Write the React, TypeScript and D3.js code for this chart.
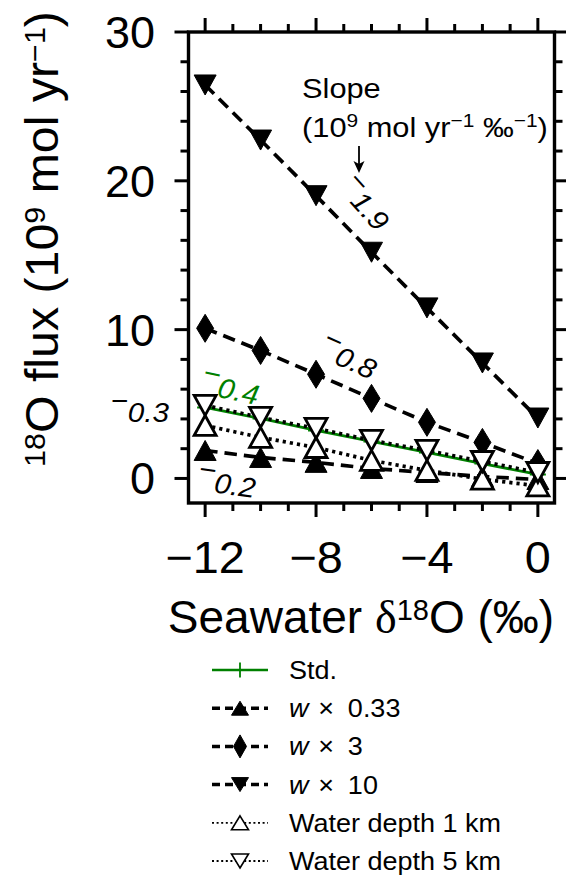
import React from "react";
import * as d3 from "d3";

// ---------- data ----------
const delta = [-12, -10, -8, -6, -4, -2, 0];
const stdFlux = [4.77, 4.03, 3.23, 2.49, 1.75, 1.0, 0.27];
const w033Flux = [1.88, 1.41, 1.08, 0.67, 0.4, 0.13, -0.07];
const w3Flux = [10.09, 8.6, 7.0, 5.38, 3.77, 2.42, 1.0];
const w10Flux = [26.44, 22.74, 19.0, 15.2, 11.46, 7.76, 4.06];
const depth1Flux = [3.56, 2.76, 2.08, 1.21, 0.54, -0.05, -0.5];
const depth5Flux = [4.91, 4.1, 3.36, 2.56, 1.88, 1.14, 0.4];

const xMajorTicks = [-12, -8, -4, 0];
const xMinorTicks = [-11, -10, -9, -7, -6, -5, -3, -2, -1];
const yMajorTicks = [0, 10, 20, 30];
const yMinorTicks = [2, 4, 6, 8, 12, 14, 16, 18, 22, 24, 26, 28];

const seriesNames = ["Std.", "w × 0.33", "w × 3", "w × 10", "Water depth 1 km", "Water depth 5 km"];
const slopeLabels = ["−0.4", "−0.2", "−0.8", "−1.9", "−0.3"];

const FONT = "'Liberation Sans', Arial, Helvetica, sans-serif";
const W = 566;
const H = 876;

type MarkerKind = "plus" | "triUp" | "triDown" | "thinDiamond";

function markerPath(kind: MarkerKind, cx: number, cy: number, hw: number, hh: number): string {
  switch (kind) {
    case "triUp":
      return `M${cx},${cy - hh}L${cx + hw},${cy + hh}L${cx - hw},${cy + hh}Z`;
    case "triDown":
      return `M${cx},${cy + hh}L${cx + hw},${cy - hh}L${cx - hw},${cy - hh}Z`;
    case "thinDiamond":
      return `M${cx},${cy - hh}L${cx + hw},${cy}L${cx},${cy + hh}L${cx - hw},${cy}Z`;
    case "plus":
    default:
      return `M${cx - hw},${cy}L${cx + hw},${cy}M${cx},${cy - hh}L${cx},${cy + hh}`;
  }
}

interface Series {
  name: string;
  values: number[];
  color: string;
  lineWidth: number;
  dash: string | null;
  marker: MarkerKind;
  fill: string;
  mStroke: number;
  hw: number;
  hh: number;
  legDash: string | null;
  legWidth: number;
  legHw: number;
  legHh: number;
  legMStroke: number;
  italicW: boolean;
}

const series: Series[] = [
  { name: seriesNames[0], values: stdFlux, color: "#008000", lineWidth: 2.8, dash: null, marker: "plus", fill: "none", mStroke: 2, hw: 8, hh: 8, legDash: null, legWidth: 2.4, legHw: 7, legHh: 7.5, legMStroke: 1.8, italicW: false },
  { name: seriesNames[1], values: w033Flux, color: "#000", lineWidth: 3.7, dash: "12.5,7", marker: "triUp", fill: "#000", mStroke: 1, hw: 11, hh: 10, legDash: "8,5", legWidth: 3.5, legHw: 8.5, legHh: 7, legMStroke: 1, italicW: true },
  { name: seriesNames[2], values: w3Flux, color: "#000", lineWidth: 3.7, dash: "12.5,7", marker: "thinDiamond", fill: "#000", mStroke: 1, hw: 8.5, hh: 14, legDash: "8,5", legWidth: 3.5, legHw: 6.5, legHh: 11.5, legMStroke: 1, italicW: true },
  { name: seriesNames[3], values: w10Flux, color: "#000", lineWidth: 3.7, dash: "12.5,7", marker: "triDown", fill: "#000", mStroke: 1, hw: 11, hh: 10, legDash: "8,5", legWidth: 3.5, legHw: 8.5, legHh: 7, legMStroke: 1, italicW: true },
  { name: seriesNames[4], values: depth1Flux, color: "#000", lineWidth: 3.7, dash: "3.2,4", marker: "triUp", fill: "#fff", mStroke: 2.8, hw: 11, hh: 10, legDash: "2,2.6", legWidth: 1.8, legHw: 8.5, legHh: 7, legMStroke: 1.6, italicW: false },
  { name: seriesNames[5], values: depth5Flux, color: "#000", lineWidth: 3.7, dash: "3.2,4", marker: "triDown", fill: "#fff", mStroke: 2.8, hw: 11, hh: 10, legDash: "2,2.6", legWidth: 1.8, legHw: 8.5, legHh: 7, legMStroke: 1.6, italicW: false },
];

// text helper; glyphs in the reference are slightly wider than Arial
function T(props: {
  x: number; y: number; size: number; anchor?: "start" | "middle" | "end"; sx?: number;
  rotate?: number; italic?: boolean; fill?: string; children: React.ReactNode;
}) {
  const { x, y, size, anchor = "start", sx = 1, rotate = 0, italic = false, fill = "#000", children } = props;
  return (
    <g transform={`translate(${x},${y}) rotate(${rotate}) scale(${sx},1)`}>
      <text x={0} y={0} fontFamily={FONT} fontSize={size} textAnchor={anchor}
        fontStyle={italic ? "italic" : "normal"} fill={fill} style={{ whiteSpace: "pre" }}>
        {children}
      </text>
    </g>
  );
}

function SlopeLabel(props: { label: string; x: number; y: number; rotate: number; fill?: string; anchor?: "start" | "middle" | "end"; size?: number }) {
  const { label, x, y, rotate, fill = "#000", anchor = "middle", size = 28 } = props;
  const minus = label.slice(0, 1);
  const rest = label.slice(1);
  return (
    <T x={x} y={y} size={size} anchor={anchor} rotate={rotate} italic fill={fill} sx={1.06}>
      <tspan dy={-12}>{minus}</tspan>
      <tspan dy={12}>{rest}</tspan>
    </T>
  );
}

export default function App() {
  const x = d3.scaleLinear().domain([-12.6, 0.6]).range([188.5, 554.5]);
  const y = d3.scaleLinear().domain([-1.65, 30]).range([503, 32]);
  const line = d3
    .line<[number, number]>()
    .x((d) => x(d[0]))
    .y((d) => y(d[1]));

  const [x0, x1] = x.range();
  const [yb, yt] = y.range();

  const legendRowY = d3.range(series.length).map((i) => 670 + i * 38.2);
  const legX0 = 212;
  const legX1 = 268;
  const legTextX = 289;

  return (
    <svg width={W} height={H} viewBox={`0 0 ${W} ${H}`}
      style={{ position: "absolute", left: 0, top: 0, background: "#fff" }}>
      <rect x={0} y={0} width={W} height={H} fill="#fff" />

      {/* series lines and markers */}
      <g>
        {series.map((s, si) => {
          const pts: [number, number][] = delta.map((d, i) => [d, s.values[i]]);
          return (
            <g key={si}>
              <path d={line(pts) || ""} fill="none" stroke={s.color} strokeWidth={s.lineWidth}
                strokeDasharray={s.dash || undefined} strokeLinecap="butt" />
              {pts.map((p, i) => (
                <path key={i} d={markerPath(s.marker, x(p[0]), y(p[1]), s.hw, s.hh)}
                  fill={s.fill} stroke={s.color} strokeWidth={s.mStroke} strokeLinejoin="miter" />
              ))}
            </g>
          );
        })}
      </g>

      {/* frame */}
      <rect x={x0} y={yt} width={x1 - x0} height={yb - yt} fill="none" stroke="#000" strokeWidth={3.4} />

      {/* x ticks top and bottom */}
      {xMajorTicks.map((t) => (
        <g key={"xm" + t}>
          <line x1={x(t)} x2={x(t)} y1={yb} y2={yb + 14} stroke="#000" strokeWidth={3} />
          <line x1={x(t)} x2={x(t)} y1={yt} y2={yt - 14} stroke="#000" strokeWidth={3} />
          <T x={x(t)} y={573} size={45} anchor="middle" sx={1.04}>{t < 0 ? `−${Math.abs(t)}` : `${t}`}</T>
        </g>
      ))}
      {xMinorTicks.map((t) => (
        <g key={"xn" + t}>
          <line x1={x(t)} x2={x(t)} y1={yb} y2={yb + 8} stroke="#000" strokeWidth={3} />
          <line x1={x(t)} x2={x(t)} y1={yt} y2={yt - 8} stroke="#000" strokeWidth={3} />
        </g>
      ))}

      {/* y ticks left and right */}
      {yMajorTicks.map((t) => (
        <g key={"ym" + t}>
          <line x1={x0} x2={x0 - 14} y1={y(t)} y2={y(t)} stroke="#000" strokeWidth={3} />
          <line x1={x1} x2={x1 + 14} y1={y(t)} y2={y(t)} stroke="#000" strokeWidth={3} />
          <T x={155} y={y(t) + 16} size={45} anchor="end">{`${t}`}</T>
        </g>
      ))}
      {yMinorTicks.map((t) => (
        <g key={"yn" + t}>
          <line x1={x0} x2={x0 - 8} y1={y(t)} y2={y(t)} stroke="#000" strokeWidth={3} />
          <line x1={x1} x2={x1 + 8} y1={y(t)} y2={y(t)} stroke="#000" strokeWidth={3} />
        </g>
      ))}

      {/* axis labels */}
      <T x={361} y={633} size={46} anchor="middle">
        <tspan>Seawater </tspan>
        <tspan fontFamily="'Liberation Serif', 'Times New Roman', serif">δ</tspan>
        <tspan fontSize={29} dy={-13}>18</tspan>
        <tspan dy={13}>O (‰)</tspan>
      </T>
      <T x={58} y={239} size={46} anchor="middle" rotate={-90} sx={1.05}>
        <tspan fontSize={29} dy={-13}>18</tspan>
        <tspan dy={13}>O flux (10</tspan>
        <tspan fontSize={29} dy={-13}>9</tspan>
        <tspan dy={13}> mol yr</tspan>
        <tspan fontSize={29} dy={-13}>−1</tspan>
        <tspan dy={13}>)</tspan>
      </T>

      {/* slope annotation */}
      <T x={302} y={98} size={28} sx={1.1}>Slope</T>
      <T x={302} y={137} size={28} sx={1.1}>
        <tspan>(10</tspan>
        <tspan fontSize={19} dy={-10}>9</tspan>
        <tspan dy={10}> mol yr</tspan>
        <tspan fontSize={19} dy={-10}>−1</tspan>
        <tspan dy={10}> ‰</tspan>
        <tspan fontSize={19} dy={-10}>−1</tspan>
        <tspan dy={10}>)</tspan>
      </T>
      <line x1={359} x2={359} y1={146} y2={170} stroke="#000" strokeWidth={1.8} />
      <path d="M353.5,161L359,173L364.5,161L359,164Z" fill="#000" />

      <SlopeLabel label={slopeLabels[3]} x={357} y={211} rotate={48} />
      <SlopeLabel label={slopeLabels[2]} x={344} y={368} rotate={24} />
      <SlopeLabel label={slopeLabels[0]} x={228} y={399} rotate={12} fill="#008000" />
      <SlopeLabel label={slopeLabels[4]} x={169} y={422} rotate={0} anchor="end" />
      <SlopeLabel label={slopeLabels[1]} x={225} y={494} rotate={8} />

      {/* legend */}
      {series.map((s, i) => {
        const cy = legendRowY[i];
        const cx = (legX0 + legX1) / 2;
        return (
          <g key={"leg" + i}>
            <line x1={legX0} x2={legX1} y1={cy} y2={cy} stroke={s.color} strokeWidth={s.legWidth}
              strokeDasharray={s.legDash || undefined} />
            <path d={markerPath(s.marker, cx, cy, s.legHw, s.legHh)} fill={s.fill} stroke={s.color}
              strokeWidth={s.legMStroke} />
            <T x={legTextX} y={cy + 9} size={25} sx={1.08}>
              {s.italicW ? (
                <>
                  <tspan fontStyle="italic">{s.name.slice(0, 1)}</tspan>
                  <tspan dx={2}>{" × "}</tspan>
                  <tspan dx={6}>{s.name.slice(s.name.indexOf("×") + 1).trim()}</tspan>
                </>
              ) : (
                s.name
              )}
            </T>
          </g>
        );
      })}
    </svg>
  );
}
